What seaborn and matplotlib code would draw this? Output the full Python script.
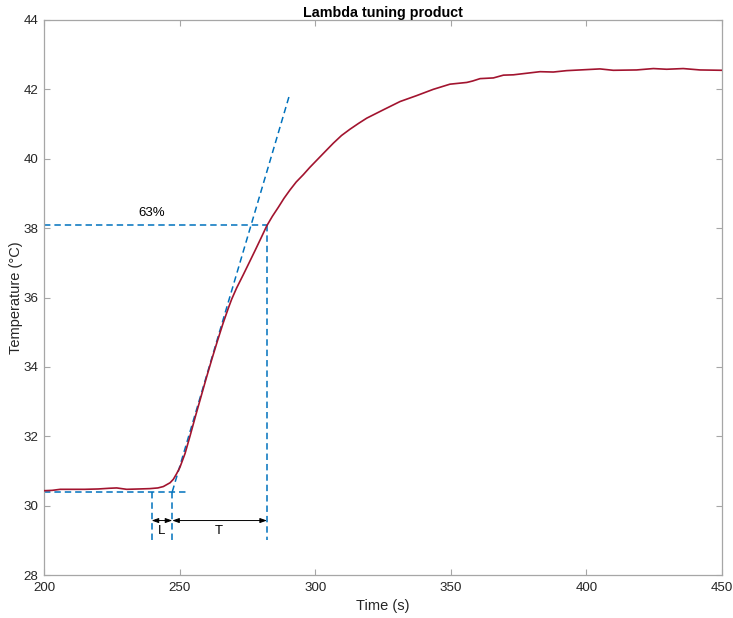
import numpy as np
import pandas as pd
import matplotlib
matplotlib.use("Agg")
import matplotlib.pyplot as plt
import seaborn as sns

# ---- data ----
time_s = [200, 203, 206, 210, 215, 220, 224, 226.8, 230.5, 235, 239, 242, 244,
          246.5, 247.7, 248.9, 250.1, 252, 254, 256, 258, 260, 262, 264, 266,
          268, 269.2, 271, 273.5, 275.5, 277.8, 280, 282.1, 284.2, 286.4, 288.5,
          290.7, 293, 295.6, 298, 300.6, 304.2, 306.7, 309.7, 312.8, 316, 319,
          325.1, 331.3, 337.4, 343.5, 349.7, 355.9, 358, 360.8, 365.7, 369.4,
          373.1, 382.9, 387.8, 392.7, 405, 409.9, 418.5, 424.7, 429.6, 435.7,
          441.9, 450]
temp_c = [30.43, 30.44, 30.47, 30.47, 30.47, 30.48, 30.50, 30.51, 30.47, 30.48,
          30.49, 30.51, 30.55, 30.66, 30.76, 30.92, 31.1, 31.5, 32.05, 32.62,
          33.17, 33.72, 34.25, 34.76, 35.25, 35.7, 35.95, 36.27, 36.66, 36.98,
          37.35, 37.71, 38.06, 38.34, 38.6, 38.86, 39.1, 39.33, 39.54, 39.75,
          39.96, 40.25, 40.45, 40.67, 40.85, 41.02, 41.17, 41.41, 41.65, 41.82,
          42.0, 42.15, 42.2, 42.24, 42.31, 42.33, 42.41, 42.42, 42.51, 42.5,
          42.54, 42.59, 42.55, 42.56, 42.6, 42.58, 42.6, 42.56, 42.55]

baseline_y = 30.4
baseline_x = [200, 252.2]
pct63_y = 38.09
pct63_x = [200, 282.2]
tangent_x = [247.3, 290.3]
tangent_y = [30.4, 41.78]
L_start, L_end, T_end = 239.7, 247.3, 282.2
dim_bottom = 29.0
arrow_y = 29.57

x_ticks = [200, 250, 300, 350, 400, 450]
y_ticks = [28, 30, 32, 34, 36, 38, 40, 42, 44]

# ---- style ----
sns.set_theme(style="white")
plt.rcParams['font.family'] = ['Liberation Sans', 'DejaVu Sans']
plt.rcParams['font.size'] = 9

curve_color = "#A2142F"
dash_color = "#0072BD"
grey = "#A6A6A6"
txt = "#262626"

fig = plt.figure(figsize=(7.33, 6.18), dpi=100)
ax = fig.add_axes([44 / 733, 1 - 575 / 618, 678 / 733, 555 / 618])

df = pd.DataFrame({"Time": time_s, "Temp": temp_c})
sns.lineplot(data=df, x="Time", y="Temp", ax=ax, color=curve_color, lw=1.2,
             zorder=3)

dash_kw = dict(color=dash_color, lw=1.1, dashes=(4.2, 2.6), zorder=2)
ax.plot(baseline_x, [baseline_y, baseline_y], **dash_kw)
ax.plot(pct63_x, [pct63_y, pct63_y], **dash_kw)
ax.plot(tangent_x, tangent_y, **dash_kw)
ax.plot([L_start, L_start], [baseline_y, dim_bottom], **dash_kw)
ax.plot([L_end, L_end], [baseline_y, dim_bottom], **dash_kw)
ax.plot([T_end, T_end], [pct63_y, dim_bottom], **dash_kw)

arrow_kw = dict(arrowstyle="<|-|>,head_length=0.45,head_width=0.16",
                color="black", lw=0.7, shrinkA=0, shrinkB=0)
ax.annotate("", xy=(L_start, arrow_y), xytext=(L_end, arrow_y),
            arrowprops=arrow_kw)
ax.annotate("", xy=(L_end, arrow_y), xytext=(T_end, arrow_y),
            arrowprops=arrow_kw)

ax.text(243.5, 29.28, "L", ha="center", va="center", fontsize=9.5, color="black")
ax.text(264.6, 29.28, "T", ha="center", va="center", fontsize=9.5, color="black")
ax.text(239.8, 38.44, "63%", ha="center", va="center", fontsize=9.5, color="black")

ax.set_xlim(200, 450)
ax.set_ylim(28, 44)
ax.set_xticks(x_ticks)
ax.set_yticks(y_ticks)
ax.tick_params(direction="in", length=4, width=0.8, color=grey,
               labelcolor=txt, labelsize=9.6, top=True, right=True,
               bottom=True, left=True, labeltop=False, labelright=False)
ax.tick_params(axis="x", pad=5)
ax.tick_params(axis="y", pad=4)
for s in ax.spines.values():
    s.set_visible(True)
    s.set_color(grey)
    s.set_linewidth(0.9)

ax.set_xlabel("Time (s)", fontsize=10.5, color=txt)
ax.set_ylabel("Temperature (°C)", fontsize=10.5, color=txt)
ax.yaxis.set_label_coords(-0.031, 0.5)
ax.xaxis.set_label_coords(0.5, -0.043)
ax.set_title("Lambda tuning product", fontsize=10.3, fontweight="bold",
             color="black", pad=2.5)

fig.savefig("out.png", dpi=100)
